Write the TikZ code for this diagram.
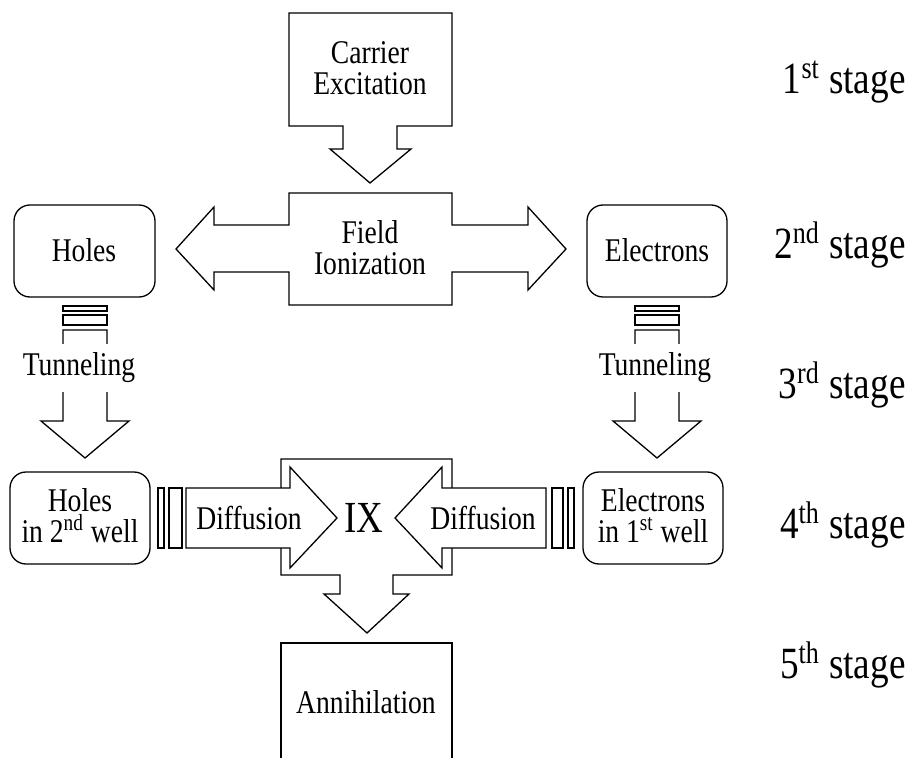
\documentclass[tikz,border=0pt]{standalone}
\usepackage{fontspec}
\setmainfont{Liberation Serif}
\usetikzlibrary{positioning}

\begin{document}
\begin{tikzpicture}[x=0.5pt, y=-0.5pt,
    blk/.style={draw, fill=white, line width=0.65pt, line join=miter},
    lbl/.style={font=\fontsize{13.8}{13}\selectfont, align=center, yscale=1.2, inner sep=0pt},
    stg/.style={font=\fontsize{18.6}{20}\selectfont, anchor=east, yscale=1.2, inner sep=0pt}]

    \useasboundingbox (0,0) rectangle (913,758);

    % Colunas das setas de tunelamento
    \def\Lc{85}         % centro esquerdo
    \def\Rc{657}        % centro direito

    % 1o estagio: caixa com seta para baixo
    \draw[blk] (289,13) -- (452,13) -- (452,126) -- (397,126) -- (397,149) -- (411,149)
        -- (370,183) -- (330,149) -- (343,149) -- (343,126) -- (289,126) -- cycle;
    \node[lbl] (carrier) at (370,68) {Carrier\\Excitation};

    % 2o estagio: caixa com seta dupla
    \draw[blk] (289,193) -- (452,193) -- (452,225) -- (528,225) -- (528,207) -- (566,249)
        -- (528,290) -- (528,272) -- (452,272) -- (452,305) -- (289,305) -- (289,272)
        -- (214,272) -- (214,290) -- (176,249) -- (214,207) -- (214,225) -- (289,225) -- cycle;
    \node[lbl] (field) at (370,248) {Field\\Ionization};

    \draw[blk, rounded corners=8pt] (14,205) rectangle (155,297);
    \node[lbl] (holes) at (84,250) {Holes};
    \draw[blk, rounded corners=8pt] (587,205) rectangle (727,297);
    \node[lbl] (electrons) at (657,250) {Electrons};

    % 3o estagio: setas listradas de tunelamento
    \foreach \c in {\Lc,\Rc} {
        \draw[blk] ({\c-22},306) rectangle ({\c+22},311);
        \draw[blk] ({\c-22},315) rectangle ({\c+22},325);
        \draw[blk] ({\c-22},330) -- ({\c+22},330) -- ({\c+22},421) -- ({\c+44},421)
            -- (\c,458) -- ({\c-44},421) -- ({\c-22},421) -- cycle;
    }
    \node[lbl, fill=white, inner xsep=1pt, inner ysep=3.6pt] (tunL) at (79,368) {Tunneling};
    \node[lbl, fill=white, inner xsep=1pt, inner ysep=3.6pt] (tunR) at (655,368) {Tunneling};

    % 4o estagio
    \draw[blk, rounded corners=8pt] (10,472) rectangle (150,564);
    \node[lbl] (holesW) at (80,516) {Holes\\in 2\textsuperscript{nd} well};
    \draw[blk, rounded corners=8pt] (583,472) rectangle (723,564);
    \node[lbl] (elecW) at (653,516) {Electrons\\in 1\textsuperscript{st} well};

    % caixa IX com seta para baixo
    \draw[blk] (281,459) -- (452,459) -- (452,575) -- (393,575) -- (393,594) -- (409,594)
        -- (367,633) -- (324,594) -- (340,594) -- (340,575) -- (281,575) -- cycle;

    % setas de difusao (listradas)
    \draw[blk] (158,488) rectangle (164,548);
    \draw[blk] (169,488) rectangle (182,548);
    \draw[blk] (186,488) -- (290,488) -- (290,467) -- (337,518) -- (290,568) -- (290,548)
        -- (186,548) -- cycle;
    \draw[blk] (574,488) rectangle (568,548);
    \draw[blk] (563,488) rectangle (552,548);
    \draw[blk] (546,488) -- (442,488) -- (442,467) -- (395,518) -- (442,568) -- (442,548)
        -- (546,548) -- cycle;
    \node[lbl] (difL) at (249,518) {Diffusion};
    \node[lbl] (difR) at (483,518) {Diffusion};
    \node[lbl, font=\fontsize{18.5}{20}\selectfont] (ix) at (364,518) {IX};

    % 5o estagio: caixa aberta embaixo
    \draw[blk, fill=none] (281,758) -- (281,643) -- (452,643) -- (452,758);
    \node[lbl] (annih) at (366,702) {Annihilation};

    % Rotulos dos estagios
    \node[stg] (st1) at (906,82) {1\textsuperscript{st} stage};
    \node[stg] (st2) at (906,245) {2\textsuperscript{nd} stage};
    \node[stg] (st3) at (906,385) {3\textsuperscript{rd} stage};
    \node[stg] (st4) at (906,525) {4\textsuperscript{th} stage};
    \node[stg] (st5) at (906,665) {5\textsuperscript{th} stage};

\end{tikzpicture}
\end{document}
